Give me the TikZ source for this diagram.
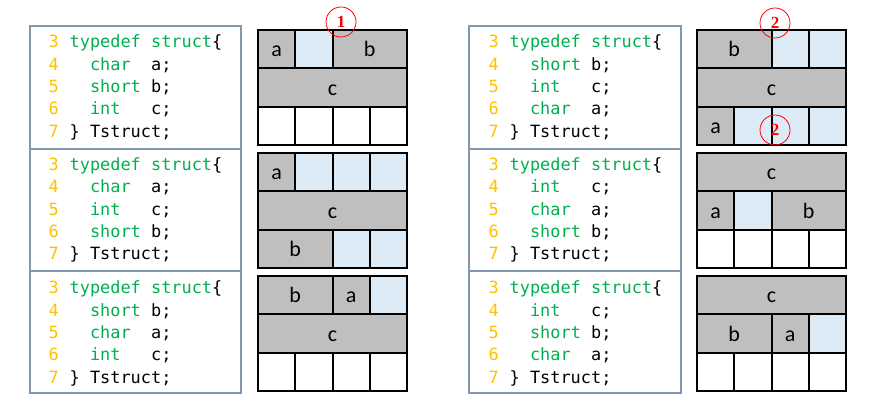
\documentclass[tikz,border=0pt]{standalone}
\usepackage{fontspec}
\newfontfamily\monofam{DejaVu Sans Mono}
\newfontfamily\cellfam{Carlito}
\newfontfamily\markfam{Liberation Serif}

\definecolor{kwgreen}{HTML}{00B050}
\definecolor{numorange}{HTML}{FFC000}
\definecolor{cellgray}{HTML}{BFBFBF}
\definecolor{cellblue}{HTML}{DDEBF7}
\definecolor{framegray}{HTML}{8497B0}
\definecolor{markred}{HTML}{FF0000}

\newcommand\kw[1]{\textcolor{kwgreen}{#1}}
\def\memW{37.25}
\def\memH{38.4}

% one listing line: line number and source text
\newcommand\srcline[5]{%
  \node[lnum] (#1n) at (#2,#3) {#4};
  \node[src]  (#1c) at ({#2+21},#3) {#5};}

% one memory cell spanning columns #5..#6 of row #4, with a label
\newcommand\memcell[8]{%
  \filldraw[gridline, fill=#7] ({#2+(#5)*\memW},{#3+(#4)*\memH}) rectangle ({#2+(#6)*\memW},{#3+(#4+1)*\memH});
  \node[cell] (#1) at ({#2+(#5+#6)/2*\memW},{#3+(#4+0.5)*\memH+7.5}) {#8};}

% an unlabelled cell
\newcommand\padcell[6]{%
  \filldraw[gridline, fill=#6] ({#1+(#4)*\memW},{#2+(#3)*\memH}) rectangle ({#1+(#5)*\memW},{#2+(#3+1)*\memH});}

% a row of four unused bytes
\newcommand\freerow[3]{%
  \foreach \k in {0,1,2,3} {\padcell{#1}{#2}{#3}{\k}{\k+1}{white}}}

% a complete listing box section
\newcommand\listing[6]{%
  \srcline{#1a}{#2}{#3}{3}{\kw{typedef~struct}\{}
  \srcline{#1b}{#2}{#3+22.3}{4}{~~#4}
  \srcline{#1c}{#2}{#3+44.6}{5}{~~#5}
  \srcline{#1d}{#2}{#3+66.9}{6}{~~#6}
  \srcline{#1e}{#2}{#3+89.2}{7}{\}~Tstruct;}}

\begin{document}
\begin{tikzpicture}[x=1pt,y=-1pt,
  lnum/.style={anchor=base west, inner sep=0pt, text=numorange,
    font=\monofam\fontsize{16.9}{20}\selectfont},
  src/.style={anchor=base west, inner sep=0pt, text=black,
    font=\monofam\fontsize{16.9}{20}\selectfont},
  gridline/.style={draw=black, line width=2pt},
  cell/.style={anchor=base, inner sep=0pt, font=\cellfam\fontsize{22}{24}\selectfont},
  frame/.style={draw=framegray, line width=2pt},
  markc/.style={circle, draw=markred, line width=0.8pt, minimum size=30pt, inner sep=0pt,
    text=markred, font=\markfam\bfseries\fontsize{17}{17}\selectfont}]
\useasboundingbox (0,0) rectangle (886,411);

% listing frames
\draw[frame] (29.5,26) rectangle (241,393);
\draw[frame] (29.5,149) -- (241,149);
\draw[frame] (29.5,271.5) -- (241,271.5);
\draw[frame] (469,26) rectangle (680.5,393);
\draw[frame] (469,149) -- (680.5,149);
\draw[frame] (469,271.5) -- (680.5,271.5);

% listings, left column
\listing{la}{48.5}{48}{\kw{char}~~a;}{\kw{short}~b;}{\kw{int}~~~c;}
\listing{lb}{48.5}{170.5}{\kw{char}~~a;}{\kw{int}~~~c;}{\kw{short}~b;}
\listing{lc}{48.5}{294}{\kw{short}~b;}{\kw{char}~~a;}{\kw{int}~~~c;}

% listings, right column
\listing{ra}{488.5}{48}{\kw{short}~b;}{\kw{int}~~~c;}{\kw{char}~~a;}
\listing{rb}{488.5}{170.5}{\kw{int}~~~c;}{\kw{char}~~a;}{\kw{short}~b;}
\listing{rc}{488.5}{294}{\kw{int}~~~c;}{\kw{short}~b;}{\kw{char}~~a;}

% memory layout: char a; short b; int c;
\memcell{l1a}{258}{30}{0}{0}{1}{cellgray}{a}
\padcell{258}{30}{0}{1}{2}{cellblue}
\memcell{l1b}{258}{30}{0}{2}{4}{cellgray}{b}
\memcell{l1c}{258}{30}{1}{0}{4}{cellgray}{c}
\freerow{258}{30}{2}

% memory layout: char a; int c; short b;
\memcell{l2a}{258}{153}{0}{0}{1}{cellgray}{a}
\padcell{258}{153}{0}{1}{2}{cellblue}
\padcell{258}{153}{0}{2}{3}{cellblue}
\padcell{258}{153}{0}{3}{4}{cellblue}
\memcell{l2c}{258}{153}{1}{0}{4}{cellgray}{c}
\memcell{l2b}{258}{153}{2}{0}{2}{cellgray}{b}
\padcell{258}{153}{2}{2}{3}{cellblue}
\padcell{258}{153}{2}{3}{4}{cellblue}

% memory layout: short b; char a; int c;
\memcell{l3b}{258}{276}{0}{0}{2}{cellgray}{b}
\memcell{l3a}{258}{276}{0}{2}{3}{cellgray}{a}
\padcell{258}{276}{0}{3}{4}{cellblue}
\memcell{l3c}{258}{276}{1}{0}{4}{cellgray}{c}
\freerow{258}{276}{2}

% memory layout: short b; int c; char a;
\memcell{r1b}{697}{30}{0}{0}{2}{cellgray}{b}
\padcell{697}{30}{0}{2}{3}{cellblue}
\padcell{697}{30}{0}{3}{4}{cellblue}
\memcell{r1c}{697}{30}{1}{0}{4}{cellgray}{c}
\memcell{r1a}{697}{30}{2}{0}{1}{cellgray}{a}
\padcell{697}{30}{2}{1}{2}{cellblue}
\padcell{697}{30}{2}{2}{3}{cellblue}
\padcell{697}{30}{2}{3}{4}{cellblue}

% memory layout: int c; char a; short b;
\memcell{r2c}{697}{153}{0}{0}{4}{cellgray}{c}
\memcell{r2a}{697}{153}{1}{0}{1}{cellgray}{a}
\padcell{697}{153}{1}{1}{2}{cellblue}
\memcell{r2b}{697}{153}{1}{2}{4}{cellgray}{b}
\freerow{697}{153}{2}

% memory layout: int c; short b; char a;
\memcell{r3c}{697}{276}{0}{0}{4}{cellgray}{c}
\memcell{r3b}{697}{276}{1}{0}{2}{cellgray}{b}
\memcell{r3a}{697}{276}{1}{2}{3}{cellgray}{a}
\padcell{697}{276}{1}{3}{4}{cellblue}
\freerow{697}{276}{2}

% circled markers
\node[markc] (m1)  at (341,22)  {1};
\node[markc] (m2a) at (775,23)  {2};
\node[markc] (m2b) at (775,130) {2};
\end{tikzpicture}
\end{document}
